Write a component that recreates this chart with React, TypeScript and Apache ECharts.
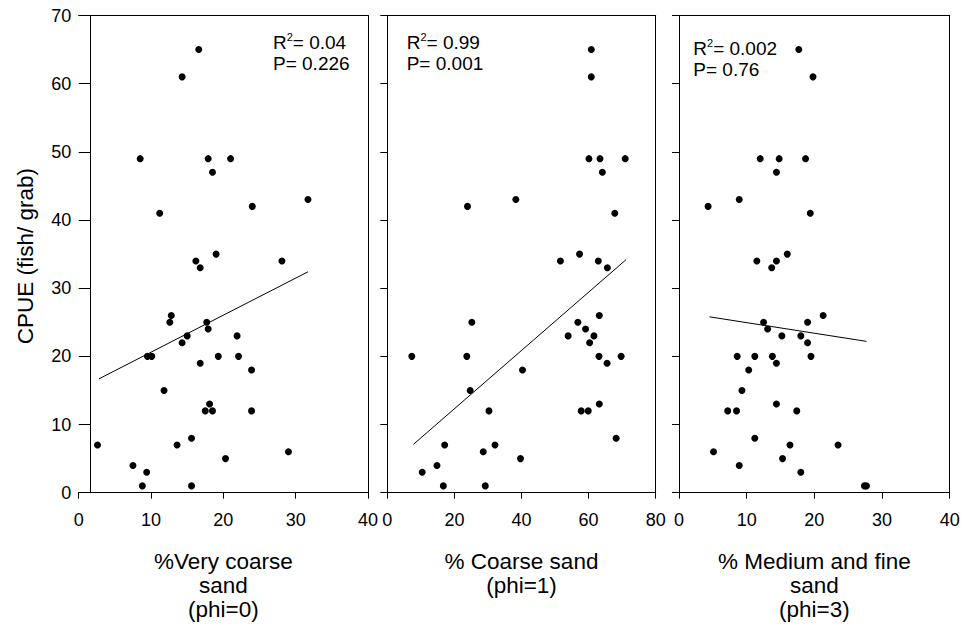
import React, { useEffect, useRef } from "react";
import * as echarts from "echarts";

// ---- Data ----
const yTickMax = 70;
const yTickStep = 10;

const xTitles = ["%Very coarse\nsand\n(phi=0)", "% Coarse sand\n(phi=1)", "% Medium and fine\nsand\n(phi=3)"];
const yTitle = "CPUE (fish/ grab)";
const xMaxes = [40, 80, 40];
const xSteps = [10, 20, 10];
const r2Values = ["0.04", "0.99", "0.002"];
const pValues = ["0.226", "0.001", "0.76"];

const veryCoarseX = [16.6, 14.3, 8.5, 17.9, 21, 18.5, 11.2, 24, 31.7, 16.2, 16.8, 19, 28.1, 12.8, 12.6, 17.7, 17.9, 15, 14.3, 21.9, 9.5, 10.1, 19.3, 22.1, 16.8, 23.9, 11.8, 18.1, 17.5, 18.5, 23.9, 2.6, 13.6, 15.6, 20.3, 29, 7.5, 9.4, 8.8, 15.6];
const veryCoarseY = [65, 61, 49, 49, 49, 47, 41, 42, 43, 34, 33, 35, 34, 26, 25, 25, 24, 23, 22, 23, 20, 20, 20, 20, 19, 18, 15, 13, 12, 12, 12, 7, 7, 8, 5, 6, 4, 3, 1, 1];

const coarseX = [60.8, 60.8, 60.1, 63.4, 70.9, 64.1, 23.9, 38.3, 67.8, 51.6, 57.3, 62.9, 65.6, 25.2, 63.2, 56.8, 59.1, 53.9, 61.6, 60.3, 7.3, 23.7, 63.1, 69.7, 65.5, 40.3, 24.7, 30.3, 57.8, 59.9, 63.2, 68.2, 17.1, 32.1, 28.6, 39.7, 14.8, 10.4, 16.7, 29.2];
const coarseY = [65, 61, 49, 49, 49, 47, 42, 43, 41, 34, 35, 34, 33, 25, 26, 25, 24, 23, 23, 22, 20, 20, 20, 20, 19, 18, 15, 12, 12, 12, 13, 8, 7, 7, 6, 5, 4, 3, 1, 1];

const mediumX = [17.7, 19.8, 12, 14.8, 18.7, 14.4, 4.3, 8.9, 19.4, 11.5, 14.4, 16, 13.7, 21.3, 12.5, 19, 13.1, 15.2, 18, 19, 8.6, 11.2, 13.8, 19.5, 14.4, 10.3, 9.3, 14.4, 7.2, 8.5, 17.4, 11.2, 16.4, 23.5, 5.1, 15.3, 8.9, 18, 27.4, 27.7];
const mediumY = [65, 61, 49, 49, 49, 47, 42, 43, 41, 34, 34, 35, 33, 26, 25, 25, 24, 23, 23, 22, 20, 20, 20, 20, 19, 18, 15, 13, 12, 12, 12, 8, 7, 7, 6, 5, 4, 3, 1, 1];

const fitVeryCoarse = [[2.8, 16.7], [31.7, 32.4]];
const fitCoarse = [[7.8, 7.1], [71.2, 34.2]];
const fitMedium = [[4.5, 25.8], [27.7, 22.2]];

const xs = [veryCoarseX, coarseX, mediumX];
const ys = [veryCoarseY, coarseY, mediumY];
const fits = [fitVeryCoarse, fitCoarse, fitMedium];

// ---- Layout ----
const TOP = 15.5;
const BOTTOM = 492.7;
const panelLeft = [78.7, 387.3, 679];
const panelRight = [368, 655.7, 949.7];
const yOffsets = [-11.6, 0, 0];
const yTickLens = [11.6, 7, 7];
const annX = [273, 406.7, 693.3];
const annY = [42, 42, 48];

export default function App() {
  const ref = useRef<HTMLDivElement>(null);
  useEffect(() => {
    if (!ref.current) return;
    const chart = echarts.init(ref.current, null, { renderer: "svg" });
    const font = "'Liberation Sans', Arial, Helvetica, sans-serif";
    const lineStyle = { color: "#000", width: 1 };
    const grids: any[] = [];
    const xAxes: any[] = [];
    const yAxes: any[] = [];
    const series: any[] = [];
    const graphic: any[] = [];

    for (let i = 0; i < 3; i++) {
      grids.push({
        left: panelLeft[i],
        top: TOP,
        width: panelRight[i] - panelLeft[i],
        height: BOTTOM - TOP,
        containLabel: false,
        outerBoundsMode: "none",
      });
      xAxes.push({
        type: "value",
        gridIndex: i,
        position: "bottom",
        min: 0,
        max: xMaxes[i],
        interval: xSteps[i],
        axisLine: { show: true, onZero: false, lineStyle },
        axisTick: { show: true, length: 6, lineStyle },
        axisLabel: {
          show: true,
          margin: 18,
          fontSize: 18,
          color: "#000",
          fontFamily: font,
          showMinLabel: true,
          showMaxLabel: true,
        },
        splitLine: { show: false },
      });
      xAxes.push({
        type: "value",
        gridIndex: i,
        position: "top",
        min: 0,
        max: xMaxes[i],
        axisLine: { show: true, onZero: false, lineStyle },
        axisTick: { show: false },
        axisLabel: { show: false },
        splitLine: { show: false },
      });
      yAxes.push({
        type: "value",
        gridIndex: i,
        position: "left",
        offset: yOffsets[i],
        min: 0,
        max: yTickMax,
        interval: yTickStep,
        axisLine: { show: true, onZero: false, lineStyle },
        axisTick: { show: true, length: yTickLens[i], lineStyle },
        axisLabel: {
          show: i === 0,
          margin: 19,
          fontSize: 18,
          color: "#000",
          fontFamily: font,
          showMinLabel: true,
          showMaxLabel: true,
        },
        splitLine: { show: false },
      });
      yAxes.push({
        type: "value",
        gridIndex: i,
        position: "right",
        min: 0,
        max: yTickMax,
        axisLine: { show: true, onZero: false, lineStyle },
        axisTick: { show: false },
        axisLabel: { show: false },
        splitLine: { show: false },
      });
      series.push({
        type: "scatter",
        xAxisIndex: 2 * i,
        yAxisIndex: 2 * i,
        data: xs[i].map((x, k) => [x, ys[i][k]]),
        symbol: "circle",
        symbolSize: 7,
        itemStyle: { color: "#000", opacity: 1 },
        z: 3,
      });
      series.push({
        type: "line",
        xAxisIndex: 2 * i,
        yAxisIndex: 2 * i,
        data: fits[i],
        symbol: "none",
        lineStyle: { color: "#000", width: 1 },
        z: 2,
      });

      graphic.push({
        type: "text",
        x: (panelLeft[i] + panelRight[i]) / 2,
        y: 549,
        style: {
          text: xTitles[i],
          fontSize: 22.5,
          lineHeight: 24,
          fontFamily: font,
          fill: "#000",
          align: "center",
          verticalAlign: "top",
          textAlign: "center",
          textVerticalAlign: "top",
        },
      });
      graphic.push({
        type: "text",
        x: annX[i],
        y: annY[i],
        style: {
          text: "{n|R}{s|2}{n|= " + r2Values[i] + "}",
          rich: {
            n: { fontSize: 19, lineHeight: 22, fontFamily: font, fill: "#000", verticalAlign: "middle" },
            s: { fontSize: 11, lineHeight: 11, fontFamily: font, fill: "#000", verticalAlign: "top" },
          },
          fill: "#000",
          align: "left",
          verticalAlign: "middle",
          textAlign: "left",
          textVerticalAlign: "middle",
        },
      });
      graphic.push({
        type: "text",
        x: annX[i],
        y: annY[i] + 21,
        style: {
          text: "P= " + pValues[i],
          fontSize: 19,
          fontFamily: font,
          fill: "#000",
          align: "left",
          verticalAlign: "middle",
          textAlign: "left",
          textVerticalAlign: "middle",
        },
      });
    }

    graphic.push({
      type: "text",
      x: 25,
      y: (TOP + BOTTOM) / 2 + 2,
      rotation: Math.PI / 2,
      style: {
        text: yTitle,
        fontSize: 22.5,
        fontFamily: font,
        fill: "#000",
        align: "center",
        verticalAlign: "middle",
        textAlign: "center",
        textVerticalAlign: "middle",
      },
    });

    chart.setOption({
      animation: false,
      backgroundColor: "#fff",
      grid: grids,
      xAxis: xAxes,
      yAxis: yAxes,
      series,
      graphic,
    });
    return () => chart.dispose();
  }, []);

  return (
    <div
      ref={ref}
      style={{ position: "fixed", left: 0, top: 0, width: 963, height: 627, background: "#fff" }}
    />
  );
}
